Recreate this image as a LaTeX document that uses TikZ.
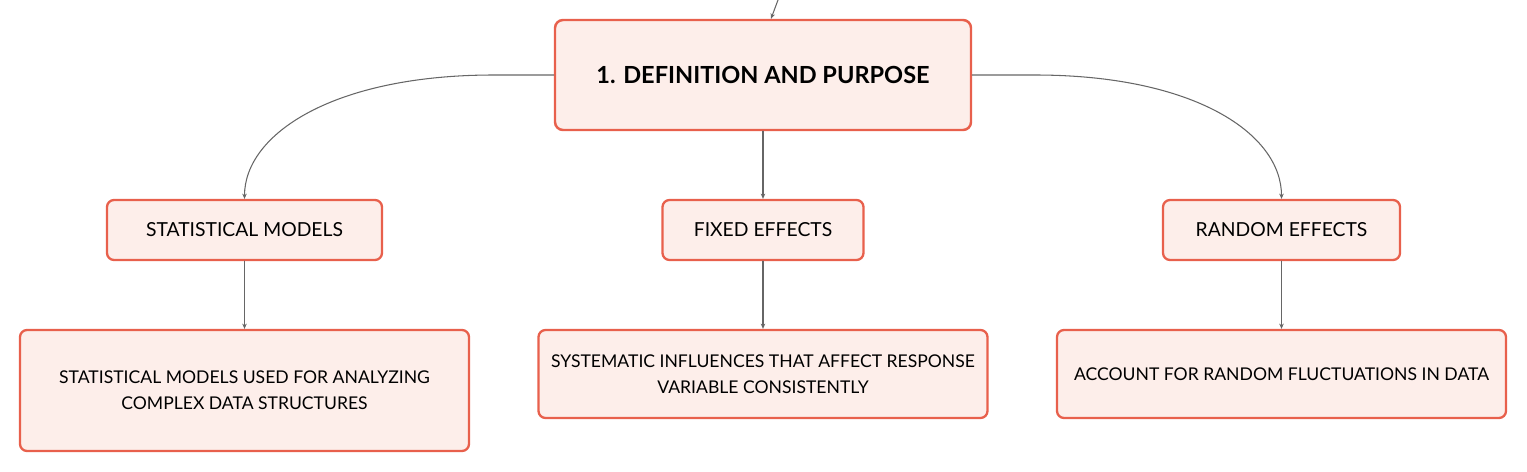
\documentclass[tikz,border=0pt]{standalone}
\usepackage{fontspec}
\setmainfont{Lato}
\usetikzlibrary{arrows.meta}
\definecolor{boxline}{HTML}{E8604C}
\definecolor{boxfill}{HTML}{FDEEEA}
\definecolor{linkgray}{HTML}{666666}
\begin{document}
\begin{tikzpicture}[line join=round, line cap=round,
	topbox/.style={rectangle,draw=boxline,fill=boxfill,line width=1.4pt,rounded corners=1.6mm,align=center,minimum width=8.32cm,minimum height=2.2cm,font=\fontsize{13.4}{16}\selectfont\bfseries},
	midbox/.style={rectangle,draw=boxline,fill=boxfill,line width=1.3pt,rounded corners=1.4mm,align=center,minimum height=1.2cm,font=\fontsize{11}{14}\selectfont},
	lowbox/.style={rectangle,draw=boxline,fill=boxfill,line width=1.3pt,rounded corners=1.4mm,align=center,minimum width=8.98cm,font=\fontsize{10}{15}\selectfont},
	link/.style={-{Stealth[length=3pt,width=2.6pt]},linkgray,line width=0.6pt}]
	\useasboundingbox (0,0) rectangle (30.54,-9.44);
	\path(15.26,-1.5)node[topbox](a){1. DEFINITION AND PURPOSE}%Cấp 0
	(a)++(-10.37,-3.1)node[midbox,minimum width=5.5cm](b){STATISTICAL MODELS}%Cấp 1
	(a)++(0,-3.1)node[midbox,minimum width=4.02cm](d){FIXED EFFECTS}%Cấp 1
	(a)++(10.37,-3.1)node[midbox,minimum width=4.74cm](c){RANDOM EFFECTS}%Cấp 1
	;
	\path%Cấp 2
	(b)++(0,-3.21)node[lowbox,minimum height=2.42cm](b1){STATISTICAL MODELS USED FOR ANALYZING\\ COMPLEX DATA STRUCTURES}
	(d)++(0,-2.88)node[lowbox,minimum height=1.76cm](d1){SYSTEMATIC INFLUENCES THAT AFFECT RESPONSE\\ VARIABLE CONSISTENTLY}
	(c)++(0,-2.88)node[lowbox,minimum height=1.76cm](c1){ACCOUNT FOR RANDOM FLUCTUATIONS IN DATA}
	;
	\coordinate (in) at (15.56,0);
	%Vẽ
	\draw[link](in)--([xshift=0.16cm]a.north);
	\draw[link](a.west)--++(-1.2,0)..controls +(-3.2,0) and +(0,1.3)..(b.north);
	\draw[link](a.east)--++(1.25,0)..controls +(3.2,0) and +(0,1.3)..(c.north);
	\draw[link](a.south)--(d.north);
	%%%
	\draw[link](b.south)--(b1.north);
	\draw[link](d.south)--(d1.north);
	\draw[link](c.south)--(c1.north);
\end{tikzpicture}
\end{document}
